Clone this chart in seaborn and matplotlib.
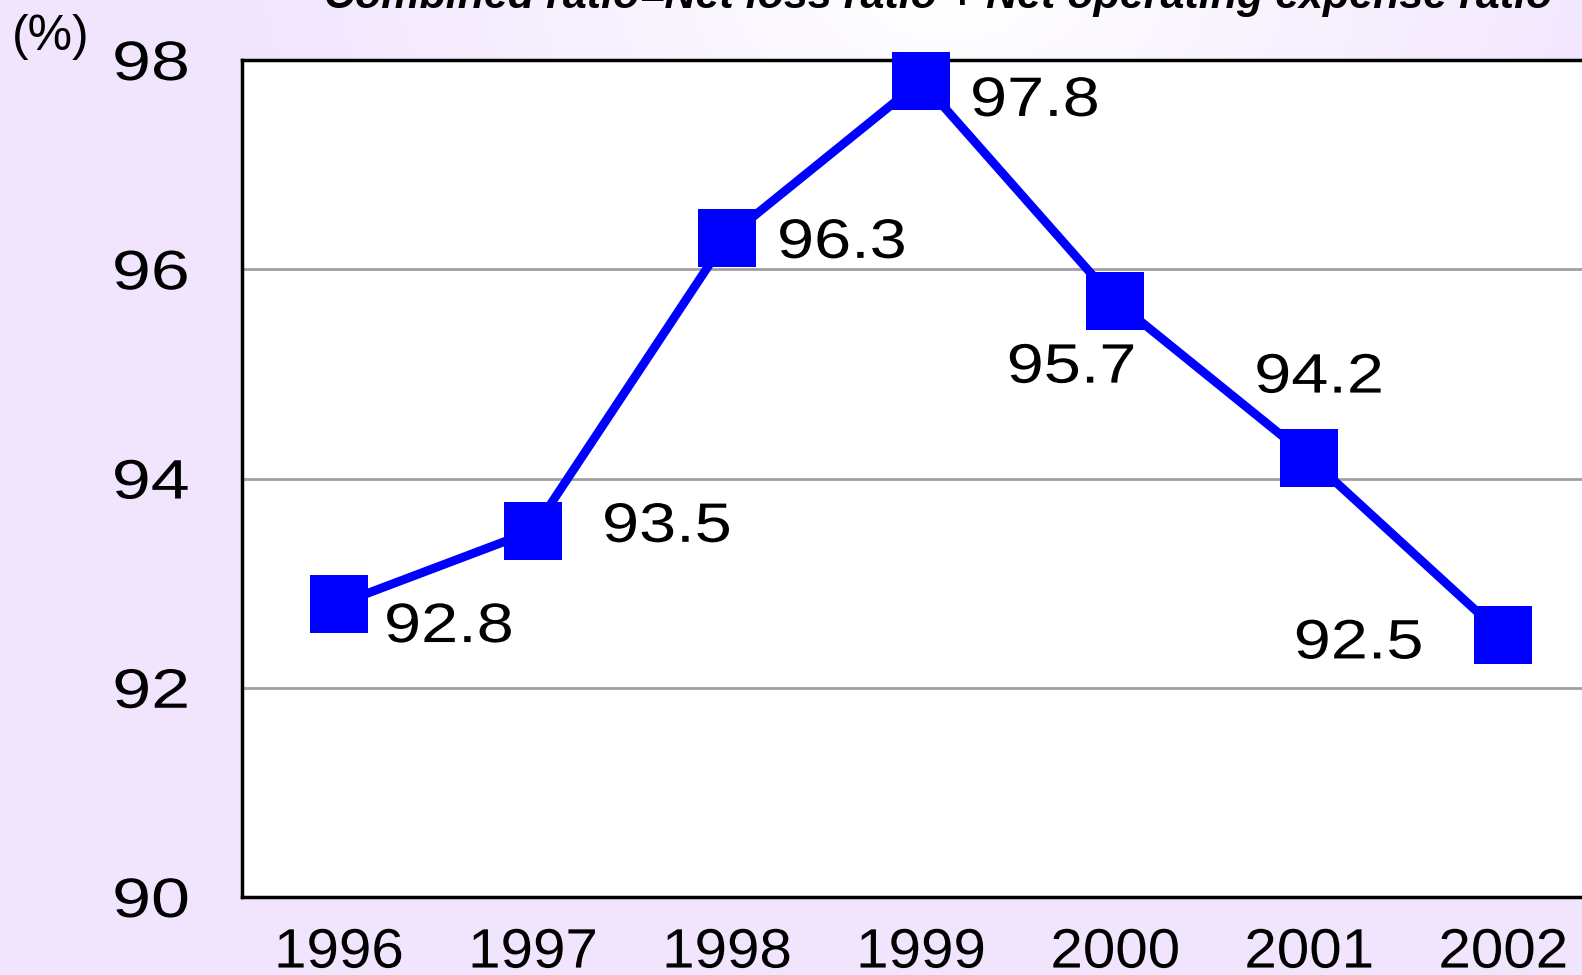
import numpy as np
import pandas as pd
import matplotlib
matplotlib.use("Agg")
import matplotlib.pyplot as plt
import matplotlib.patheffects as pe
from matplotlib.transforms import Affine2D
import seaborn as sns

# data
years = ["1996", "1997", "1998", "1999", "2000", "2001", "2002"]
combined_ratio = [92.8, 93.5, 96.3, 97.8, 95.7, 94.2, 92.5]
value_labels = ["92.8", "93.5", "96.3", "97.8", "95.7", "94.2", "92.5"]
y_ticks = [90, 92, 94, 96, 98]
title = "Combined ratio=Net loss ratio + Net operating expense ratio"

# label offsets (pixels) and alignment per point
label_offsets = [(45, -24), (69, 3), (50, -6), (49, -21), (21, -68), (10, 79), (-80, -9)]
label_ha = ["left", "left", "left", "left", "right", "center", "right"]


class HStretch(pe.AbstractPathEffect):
    """Widen text horizontally, keeping the aligned edge in place."""

    def __init__(self, sx, anchor="left"):
        super().__init__()
        self.sx = sx
        self.anchor = anchor

    def draw_path(self, renderer, gc, tpath, affine, rgbFace=None):
        ext = tpath.get_extents()
        if self.anchor == "right":
            cx = ext.x1
        elif self.anchor == "center":
            cx = (ext.x0 + ext.x1) / 2
        else:
            cx = 0
        t = Affine2D().translate(-cx, 0).scale(self.sx, 1).translate(cx, 0) + affine
        renderer.draw_path(gc, tpath, t, rgbFace)


sns.set_style("white")
plt.rcParams['font.family'] = ['Liberation Sans', 'DejaVu Sans']
plt.rcParams['text.color'] = 'black'

W, H = 1582, 975
fig = plt.figure(figsize=(W / 100, H / 100), dpi=100)

# lavender background with a soft white glow near the top middle
bg = fig.add_axes([0, 0, 1, 1], zorder=0)
gx, gy = np.meshgrid(np.linspace(0, 1, 400), np.linspace(0, 1, 250))
r = np.sqrt(((gx - 0.6) / 0.45) ** 2 + ((gy - 0.0) / 0.35) ** 2)
t = np.clip(r, 0, 1)[..., None]
white = np.array([1.0, 1.0, 1.0])
lav = np.array([0xF1, 0xE5, 0xFE]) / 255
img = white * (1 - t) + lav * t
bg.imshow(img, aspect='auto', extent=[0, 1, 0, 1], origin='upper')
bg.set_axis_off()

left, right = 242 / W, 1600 / W
bottom, top = (H - 897) / H, (H - 60) / H
ax = fig.add_axes([left, bottom, right - left, top - bottom], zorder=1)
ax.set_facecolor('white')

df = pd.DataFrame({"pos": np.arange(len(years)), "ratio": combined_ratio})
sns.lineplot(data=df, x="pos", y="ratio", ax=ax, color='#0000FF', linewidth=6.3,
             marker='s', markersize=42, markeredgewidth=0, zorder=5, clip_on=False)

ax.set_xlim(-0.5, len(years) - 0.5)
ax.set_ylim(90, 98)
ax.set_yticks(y_ticks)
ax.set_yticklabels([str(v) for v in y_ticks], fontsize=40, color='black')
ax.tick_params(axis='y', direction='in', length=8, width=2, pad=38, color='black')
for lab in ax.get_yticklabels():
    lab.set_path_effects([HStretch(1.26, "right")])

ax.set_xticks(np.arange(len(years)) + 0.5)
ax.set_xticklabels([])
ax.set_xticks(np.arange(len(years)), minor=True)
ax.set_xticklabels(years, minor=True, fontsize=40, color='black')
ax.tick_params(axis='x', which='major', direction='in', length=17, width=2, color='black')
ax.tick_params(axis='x', which='minor', length=0, pad=22)
for lab in ax.get_xticklabels(minor=True):
    lab.set_path_effects([HStretch(1.05, "center")])
ax.set_xlabel("")
ax.set_ylabel("")

for yv in [92, 94, 96]:
    ax.axhline(yv, color='#A0A0A0', linewidth=2, zorder=1)

for s in ['left', 'bottom', 'top']:
    ax.spines[s].set_color('black')
    ax.spines[s].set_linewidth(2.5)
ax.spines['right'].set_visible(False)

for i, (v, lab) in enumerate(zip(combined_ratio, value_labels)):
    dx, dy = label_offsets[i]
    txt = ax.annotate(lab, (i, v), xytext=(dx, dy), textcoords='offset pixels',
                      ha=label_ha[i], va='center', fontsize=40, color='black', zorder=6)
    txt.set_path_effects([HStretch(1.20, label_ha[i])])

fig.text(12 / W, 1 - 37 / H, "(%)", fontsize=36, ha='left', va='center')
fig.text(938 / W, 1 - 8 / H, title, fontsize=31, fontweight='bold', fontstyle='italic',
         ha='center', va='baseline')

fig.savefig("out.png", dpi=100)
